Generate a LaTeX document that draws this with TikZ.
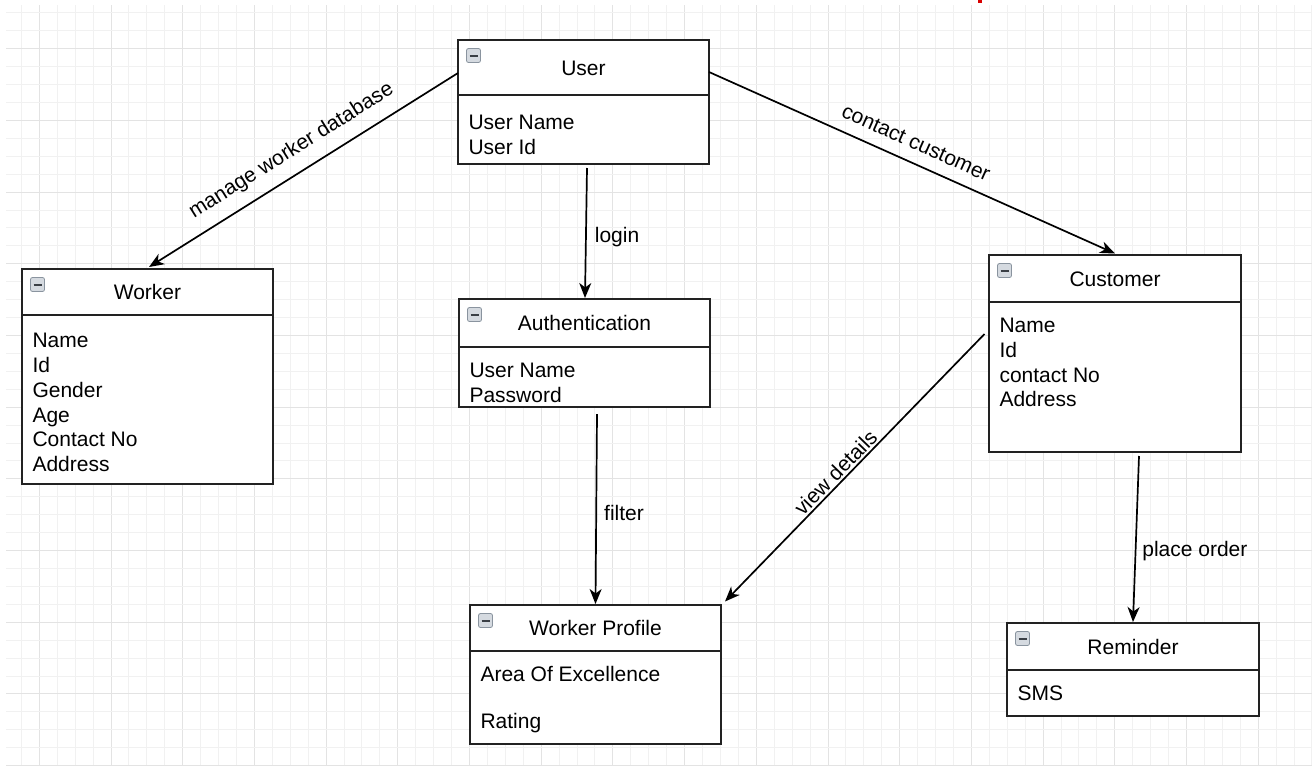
\documentclass[tikz,border=0pt]{standalone}
\usepackage{fontspec}
\setmainfont{Liberation Sans}
\usetikzlibrary{arrows.meta,calc}

\definecolor{gridminor}{HTML}{F1F1F1}
\definecolor{gridmajor}{HTML}{E3E3E3}
\definecolor{boxline}{HTML}{222222}
\definecolor{iconfill}{HTML}{D5DAE0}
\definecolor{iconedge}{HTML}{8A949F}
\definecolor{iconbar}{HTML}{3A3F45}

\tikzset{
  classbox/.style={draw=boxline, line width=1.6pt, fill=white, inner sep=0pt,
    outer sep=0pt, anchor=north west},
  divider/.style={draw=boxline, line width=1.6pt},
  txt/.style={inner sep=0pt, outer sep=0pt, text=black,
    font=\fontsize{21}{25}\selectfont},
  lbl/.style={txt, text depth=0pt},
  link/.style={draw=black, line width=1.7pt,
    -{Stealth[length=15pt,width=12pt,inset=4.5pt]}},
  iconbox/.style={draw=iconedge, fill=iconfill, line width=0.8pt,
    rounded corners=2pt},
  iconminus/.style={draw=iconbar, line width=2pt},
}

% header of a class box: divider, collapse icon and centred title
\newcommand\classhead[3]{%
  \draw[divider] ([yshift=-#2 pt]#1.north west) -- ([yshift=-#2 pt]#1.north east);
  \draw[iconbox] ([xshift=8.5pt,yshift=-8.5pt]#1.north west) rectangle ++(14,14);
  \draw[iconminus] ([xshift=11.5pt,yshift=-15.5pt]#1.north west) -- ++(8,0);
  \node[txt, anchor=base] (#1-title) at ([yshift={-(#2/2+7.5)*1pt}]#1.north) {#3};
}

% attribute lines of a class box, one per entry
\newcommand\classitems[4]{%
  \foreach \t [count=\k] in {#4} {
    \node[txt, anchor=base west] (#1-item\k)
      at ([xshift=10.5pt, yshift={-(#2+#3*(\k-1))*1pt}]#1.north west) {\t};
  }
}

\begin{document}
\begin{tikzpicture}[x=1pt, y=-1pt]
  \useasboundingbox (0,0) rectangle (1312,766);
  \fill[white] (0,0) rectangle (1312,766);

  % background grid
  \foreach \k in {1,...,73} {
    \pgfmathsetmacro\gx{3.45+17.925*\k}
    \pgfmathtruncatemacro\gm{mod(\k,4)}
    \ifnum\gm=2
      \draw[gridmajor, line width=1pt] (\gx,5) -- (\gx,766);
    \else
      \draw[gridminor, line width=1pt] (\gx,5) -- (\gx,766);
    \fi
  }
  \foreach \k in {1,...,43} {
    \pgfmathsetmacro\gy{-5.1+17.925*\k}
    \pgfmathtruncatemacro\gm{mod(\k,4)}
    \ifnum\gm=3
      \draw[gridmajor, line width=1pt] (6,\gy) -- (1312,\gy);
    \else
      \draw[gridminor, line width=1pt] (6,\gy) -- (1312,\gy);
    \fi
  }

  % red fragment at the top edge
  \fill[red!85!black] (978,0) rectangle (982,3);

  % class boxes
  \node[classbox, minimum width=251pt, minimum height=124pt] (user) at (458,40) {};
  \classhead{user}{55}{User}
  \classitems{user}{89.5}{25}{User Name,User Id}

  \node[classbox, minimum width=251pt, minimum height=215pt] (worker) at (22,269) {};
  \classhead{worker}{46}{Worker}
  \classitems{worker}{78.3}{24.9}{Name,Id,Gender,Age,Contact No,Address}

  \node[classbox, minimum width=251pt, minimum height=108pt] (auth) at (459,299) {};
  \classhead{auth}{48}{Authentication}
  \classitems{auth}{78.5}{25}{User Name,Password}

  \node[classbox, minimum width=252pt, minimum height=197pt] (customer) at (989,255) {};
  \classhead{customer}{47}{Customer}
  \classitems{customer}{77.7}{24.7}{Name,Id,contact No,Address}

  \node[classbox, minimum width=251pt, minimum height=139pt] (wp) at (470,605) {};
  \classhead{wp}{46}{Worker Profile}
  \node[txt, anchor=base west] (wp-item1)
    at ([xshift=10.5pt, yshift=-76.7pt]wp.north west) {Area Of Excellence};
  \node[txt, anchor=base west] (wp-item2)
    at ([xshift=10.5pt, yshift=-123.3pt]wp.north west) {Rating};

  \node[classbox, minimum width=252pt, minimum height=93pt] (reminder) at (1007,623) {};
  \classhead{reminder}{47}{Reminder}
  \classitems{reminder}{77}{25}{SMS}

  % associations
  \draw[link] ([yshift=-33pt]user.north west) -- ([xshift=1.5pt,yshift=2pt]worker.north)
    node[lbl, sloped, pos=0.5, above=17pt] (l-manage) {manage worker database};
  \draw[link] ([yshift=-32pt]user.north east) -- ([yshift=1.5pt]customer.north)
    node[lbl, sloped, pos=0.49, above=13pt] (l-contact) {contact customer};
  \draw[link] ([xshift=3.5pt,yshift=-4pt]user.south) -- ([xshift=0.5pt,yshift=1pt]auth.north)
    node[lbl, pos=0.575, anchor=base west, xshift=9pt] (l-login) {login};
  \draw[link] ([xshift=12.5pt,yshift=-7pt]auth.south) -- ([yshift=1pt]wp.north)
    node[lbl, pos=0.563, anchor=base west, xshift=8pt] (l-filter) {filter};
  \draw[link] ([xshift=-4.5pt,yshift=-79pt]customer.north west) -- ([xshift=4pt,yshift=3.5pt]wp.north east)
    node[lbl, sloped, pos=0.545, above=3pt] (l-view) {view details};
  \draw[link] ([xshift=24pt,yshift=-4pt]customer.south) -- ([yshift=1pt]reminder.north)
    node[lbl, pos=0.608, anchor=base west, xshift=7pt] (l-order) {place order};
\end{tikzpicture}
\end{document}
